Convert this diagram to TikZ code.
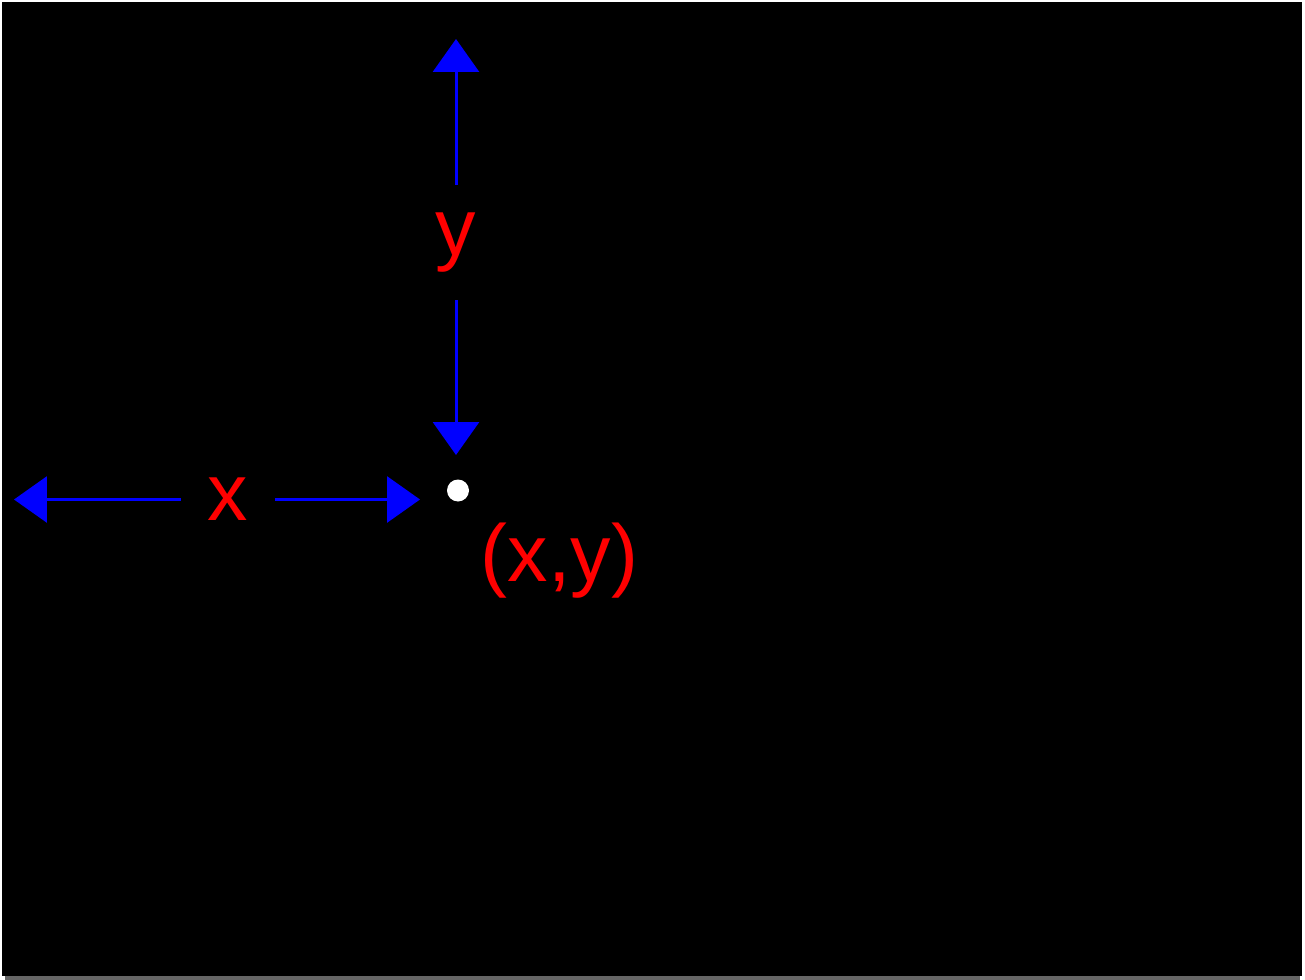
\documentclass[tikz,border=0pt]{standalone}
\usepackage{fontspec}
\setmainfont{Liberation Sans}
\usetikzlibrary{arrows.meta}
\definecolor{purered}{RGB}{255,0,0}
\definecolor{pureblue}{RGB}{0,0,255}
\definecolor{framegray}{RGB}{102,102,102}

\begin{document}
\begin{tikzpicture}[
  x=0.02cm, y=-0.02cm,
  every node/.style={font=\fontsize{46}{55}\selectfont, text=purered, inner sep=0pt},
  xlabel_style/.style={minimum width=1.88cm},
  ylabel_style/.style={minimum height=2.3cm},
  dot/.style={circle, fill=white, minimum size=0.44cm},
  coordarrow/.style={-{Triangle[length=0.66cm, width=0.92cm]}, line width=0.06cm, pureblue}
]

% Frame
\useasboundingbox (0,0) rectangle (1305,980);
\fill[white] (0,0) rectangle (1305,980);
\fill[black] (2,2) rectangle (1302,976);
\fill[framegray] (5,976) rectangle (1300,980);

% Point
\node[dot] (pt) at (458,490.5) {};
\node (ptlab) at (559.5,560.5) {(x,y)};

% Vertical distance
\coordinate (ytop) at (456,39);
\coordinate (ybot) at (456,455);
\node[ylabel_style] (ylab) at (456,242.5) {y};
\draw[coordarrow] (ylab) -- (ytop);
\draw[coordarrow] (ylab) -- (ybot);

% Horizontal distance
\coordinate (xleft) at (14,499.5);
\coordinate (xright) at (420,499.5);
\node[xlabel_style] (xlab) at (228,499.5) {x};
\draw[coordarrow] (xlab) -- (xleft);
\draw[coordarrow] (xlab) -- (xright);

\end{tikzpicture}
\end{document}
